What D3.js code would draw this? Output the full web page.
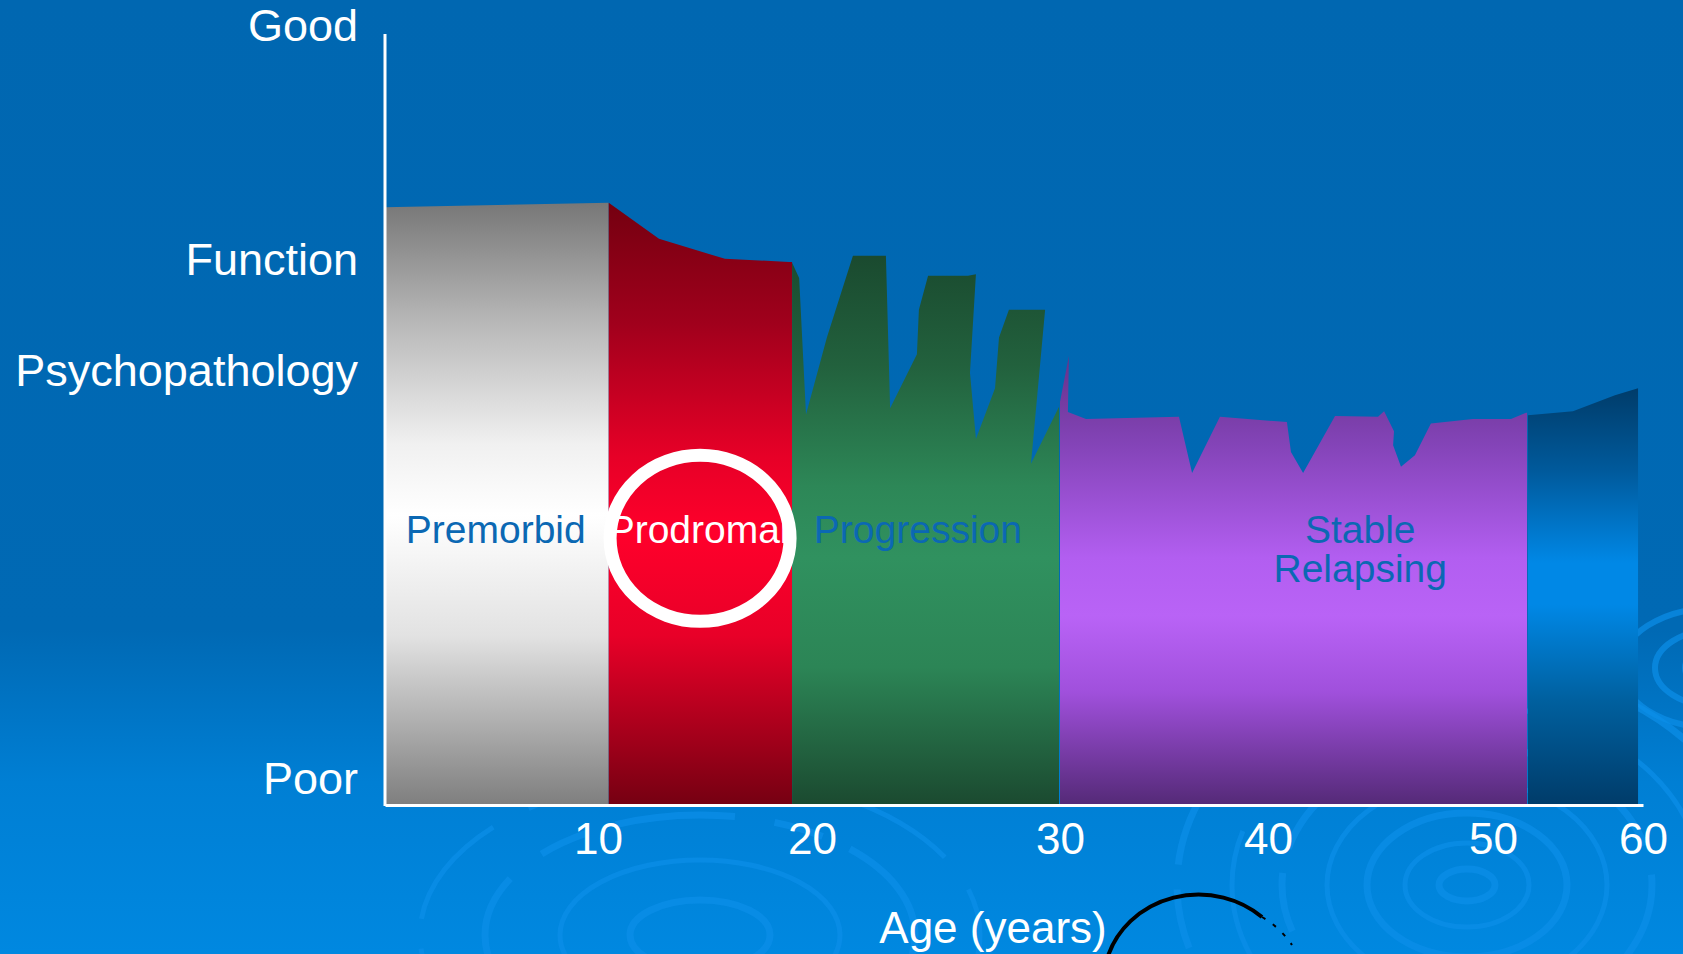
<!DOCTYPE html>
<html>
<head>
<meta charset="utf-8">
<script src="https://cdn.jsdelivr.net/npm/d3@7"></script>
<style>
  body { margin: 0; background: #0067b1; overflow: hidden; }
  text { font-family: "Liberation Sans", Arial, sans-serif; }
</style>
</head>
<body>
<div id="chart"></div>
<script>
// Canvas
const svgWidth = 1683;
const svgHeight = 954;

// Data: ages (years) and level (0 = Poor, 100 = Good)
const xTicks = [10, 20, 30, 40, 50, 60];
const yLabels = ['Good', 'Function', 'Psychopathology', 'Poor'];
const yLabelLevels = [101, 70.7, 56.2, 3.2];

const premorbid = [[0, 77.5], [10.5, 78.1]];
const prodromal = [[10.5, 78.1], [12.85, 73.4], [15.93, 70.8], [18.93, 70.4], [19.07, 70.4]];
const progression = [[19.07, 70.3], [19.4, 68.3], [19.72, 50.6], [20.6, 60.6], [21.65, 71.2],
  [22.98, 71.2], [23.15, 51.4], [24.23, 58.4], [24.31, 64.2], [24.68, 68.6], [26.29, 68.6],
  [26.61, 68.8], [26.37, 56.0], [26.61, 47.4], [27.38, 54.0], [27.54, 60.6], [27.94, 64.2],
  [29.4, 64.2], [28.83, 44.2], [29.96, 51.6]];
const stable = [[30.0, 52.2], [30.43, 58.2], [30.38, 50.9], [31.25, 50.0], [35.72, 50.3],
  [36.35, 43.0], [37.69, 50.3], [40.84, 49.6], [41.02, 45.7], [41.56, 43.0], [42.98, 50.4],
  [44.89, 50.3], [45.16, 51.0], [45.6, 48.4], [45.56, 46.6], [45.91, 43.8], [46.53, 45.3],
  [47.24, 49.4], [49.11, 50.0], [51.2, 50.0], [52.2, 50.8], [52.27, 50.8]];
const late = [[52.33, 50.5], [55.33, 51.0], [58.13, 53.1], [59.67, 54.0]];

const phaseLabels = ['Premorbid', 'Prodromal', 'Progression', 'Stable|Relapsing'];
const phaseLabelAges = [5.2, 14.7, 24.27, 44.1];
const circleCenter = [14.77, 34.5];

// Scales (the original's age axis is not evenly spaced)
const xScale = d3.scaleLinear()
  .domain([0, 10, 20, 30, 40, 50, 60])
  .range([385, 598, 812, 1060, 1268, 1493, 1643]);
const yScale = d3.scaleLinear()
  .domain([0, 100])
  .range([804, 34]);

const svg = d3.select('#chart')
  .append('svg')
  .attr('width', svgWidth)
  .attr('height', svgHeight);

const defs = svg.append('defs');

// vertical gradient helper
function vGrad(id, stops, units) {
  const g = defs.append('linearGradient')
    .attr('id', id)
    .attr('x1', 0).attr('y1', 0).attr('x2', 0).attr('y2', 1);
  if (units) g.attr('gradientUnits', 'userSpaceOnUse')
    .attr('y1', 0).attr('y2', svgHeight);
  stops.forEach(s => g.append('stop').attr('offset', s[0]).attr('stop-color', s[1]));
}

vGrad('bg', [[0, '#0067b1'], [0.66, '#0069b4'], [0.82, '#007fd4'], [1, '#0088e0']], true);
vGrad('gPremorbid', [[0, '#777777'], [0.2, '#b8b8b8'], [0.4, '#f0f0f0'], [0.52, '#ffffff'],
  [0.72, '#e2e2e2'], [1, '#7f7f7f']]);
vGrad('gProdromal', [[0, '#740010'], [0.2, '#a0001c'], [0.42, '#e60027'], [0.55, '#ff002b'],
  [0.72, '#e80028'], [1, '#760012']]);
vGrad('gProgression', [[0, '#1a4a2f'], [0.2, '#22613d'], [0.42, '#2d8757'], [0.55, '#30915f'],
  [0.75, '#2c8556'], [1, '#1b4a30']]);
vGrad('gStable', [[0, '#653289'], [0.2, '#8444b8'], [0.45, '#b25ef0'], [0.58, '#b963f6'],
  [0.75, '#a050dc'], [1, '#552a78']]);
vGrad('gLate', [[0, '#003c6a'], [0.2, '#005a9c'], [0.42, '#0088e6'], [0.52, '#0088e6'],
  [0.75, '#00609f'], [1, '#003c6a']]);

// Background
svg.append('rect')
  .attr('width', svgWidth)
  .attr('height', svgHeight)
  .attr('fill', 'url(#bg)');

// water ripples (decoration)
const ripples = svg.append('g')
  .attr('fill', 'none')
  .attr('stroke', '#0b8ee8')
  .attr('stroke-opacity', 0.7);
[[28, 16], [62, 42], [100, 72], [140, 105], [185, 140], [235, 180], [290, 220]].forEach((r, i) => {
  ripples.append('ellipse')
    .attr('cx', 1467).attr('cy', 885)
    .attr('rx', r[0]).attr('ry', r[1])
    .attr('stroke-width', i % 2 ? 5 : 7)
    .attr('stroke-dasharray', i > 3 ? '160 30 60 25' : null);
});
[[70, 35], [140, 75], [215, 120], [280, 160]].forEach((r, i) => {
  ripples.append('ellipse')
    .attr('cx', 700).attr('cy', 935)
    .attr('rx', r[0]).attr('ry', r[1])
    .attr('stroke-width', i % 2 ? 5 : 7)
    .attr('stroke-dasharray', i > 1 ? '120 40 50 30' : null);
});
[[30, 20], [60, 38], [95, 60]].forEach((r, i) => {
  ripples.append('ellipse')
    .attr('cx', 1715).attr('cy', 668)
    .attr('rx', r[0]).attr('ry', r[1])
    .attr('stroke-width', 6);
});

// Phase areas
const area = d3.area()
  .x(d => xScale(d[0]))
  .y0(yScale(0))
  .y1(d => yScale(d[1]));

const phases = [
  [premorbid, 'gPremorbid'],
  [prodromal, 'gProdromal'],
  [progression, 'gProgression'],
  [stable, 'gStable'],
  [late, 'gLate']
];

svg.selectAll('path.phase')
  .data(phases)
  .enter()
  .append('path')
  .attr('class', 'phase')
  .attr('d', d => area(d[0]))
  .attr('fill', d => 'url(#' + d[1] + ')');

// Phase labels
svg.selectAll('text.phaseLabel')
  .data(phaseLabels)
  .enter()
  .append('text')
  .attr('class', 'phaseLabel')
  .attr('x', (d, i) => xScale(phaseLabelAges[i]))
  .attr('y', 543)
  .attr('text-anchor', 'middle')
  .attr('font-size', '39px')
  .attr('fill', (d, i) => i === 1 ? '#ffffff' : '#0b68b3')
  .each(function(d) {
    const lines = d.split('|');
    const t = d3.select(this);
    lines.forEach((l, j) => {
      t.append('tspan')
        .attr('x', t.attr('x'))
        .attr('dy', j === 0 ? 0 : 38.5)
        .text(l);
    });
  });

// Highlight ring round Prodromal
svg.append('ellipse')
  .attr('cx', xScale(circleCenter[0]))
  .attr('cy', yScale(circleCenter[1]))
  .attr('rx', 90)
  .attr('ry', 83)
  .attr('fill', 'none')
  .attr('stroke', '#ffffff')
  .attr('stroke-width', 13);

// Axes
const xAxis = d3.axisBottom(xScale)
  .tickValues(xTicks)
  .tickSize(0)
  .tickPadding(18);
const gx = svg.append('g')
  .attr('transform', 'translate(0, 805)')
  .call(xAxis);
gx.select('.domain')
  .attr('stroke', '#ffffff')
  .attr('stroke-width', 3);
gx.selectAll('text')
  .attr('fill', '#ffffff')
  .attr('font-size', '44px')
  .attr('font-family', '"Liberation Sans", Arial, sans-serif');

const yAxis = d3.axisLeft(yScale)
  .tickValues(yLabelLevels)
  .tickFormat((d, i) => yLabels[i])
  .tickSize(0)
  .tickPadding(27);
const gy = svg.append('g')
  .attr('transform', 'translate(385, 0)')
  .call(yAxis);
gy.select('.domain').remove();
gy.selectAll('text')
  .attr('fill', '#ffffff')
  .attr('font-size', '45px')
  .attr('font-family', '"Liberation Sans", Arial, sans-serif');

svg.append('line')
  .attr('x1', 385).attr('x2', 385)
  .attr('y1', yScale(100)).attr('y2', 806)
  .attr('stroke', '#ffffff')
  .attr('stroke-width', 3);

// Axis title
svg.append('text')
  .attr('x', 993)
  .attr('y', 943)
  .attr('text-anchor', 'middle')
  .attr('font-size', '44px')
  .attr('fill', '#ffffff')
  .text('Age (years)');

// stray black arc from the slide
svg.append('path')
  .attr('d', 'M1108,956 A95,88 0 0,1 1262,917')
  .attr('fill', 'none')
  .attr('stroke', '#000000')
  .attr('stroke-width', 4);
svg.append('path')
  .attr('d', 'M1262,917 A95,88 0 0,1 1292,945')
  .attr('fill', 'none')
  .attr('stroke', '#000000')
  .attr('stroke-width', 2)
  .attr('stroke-dasharray', '4 9');
</script>
</body>
</html>
